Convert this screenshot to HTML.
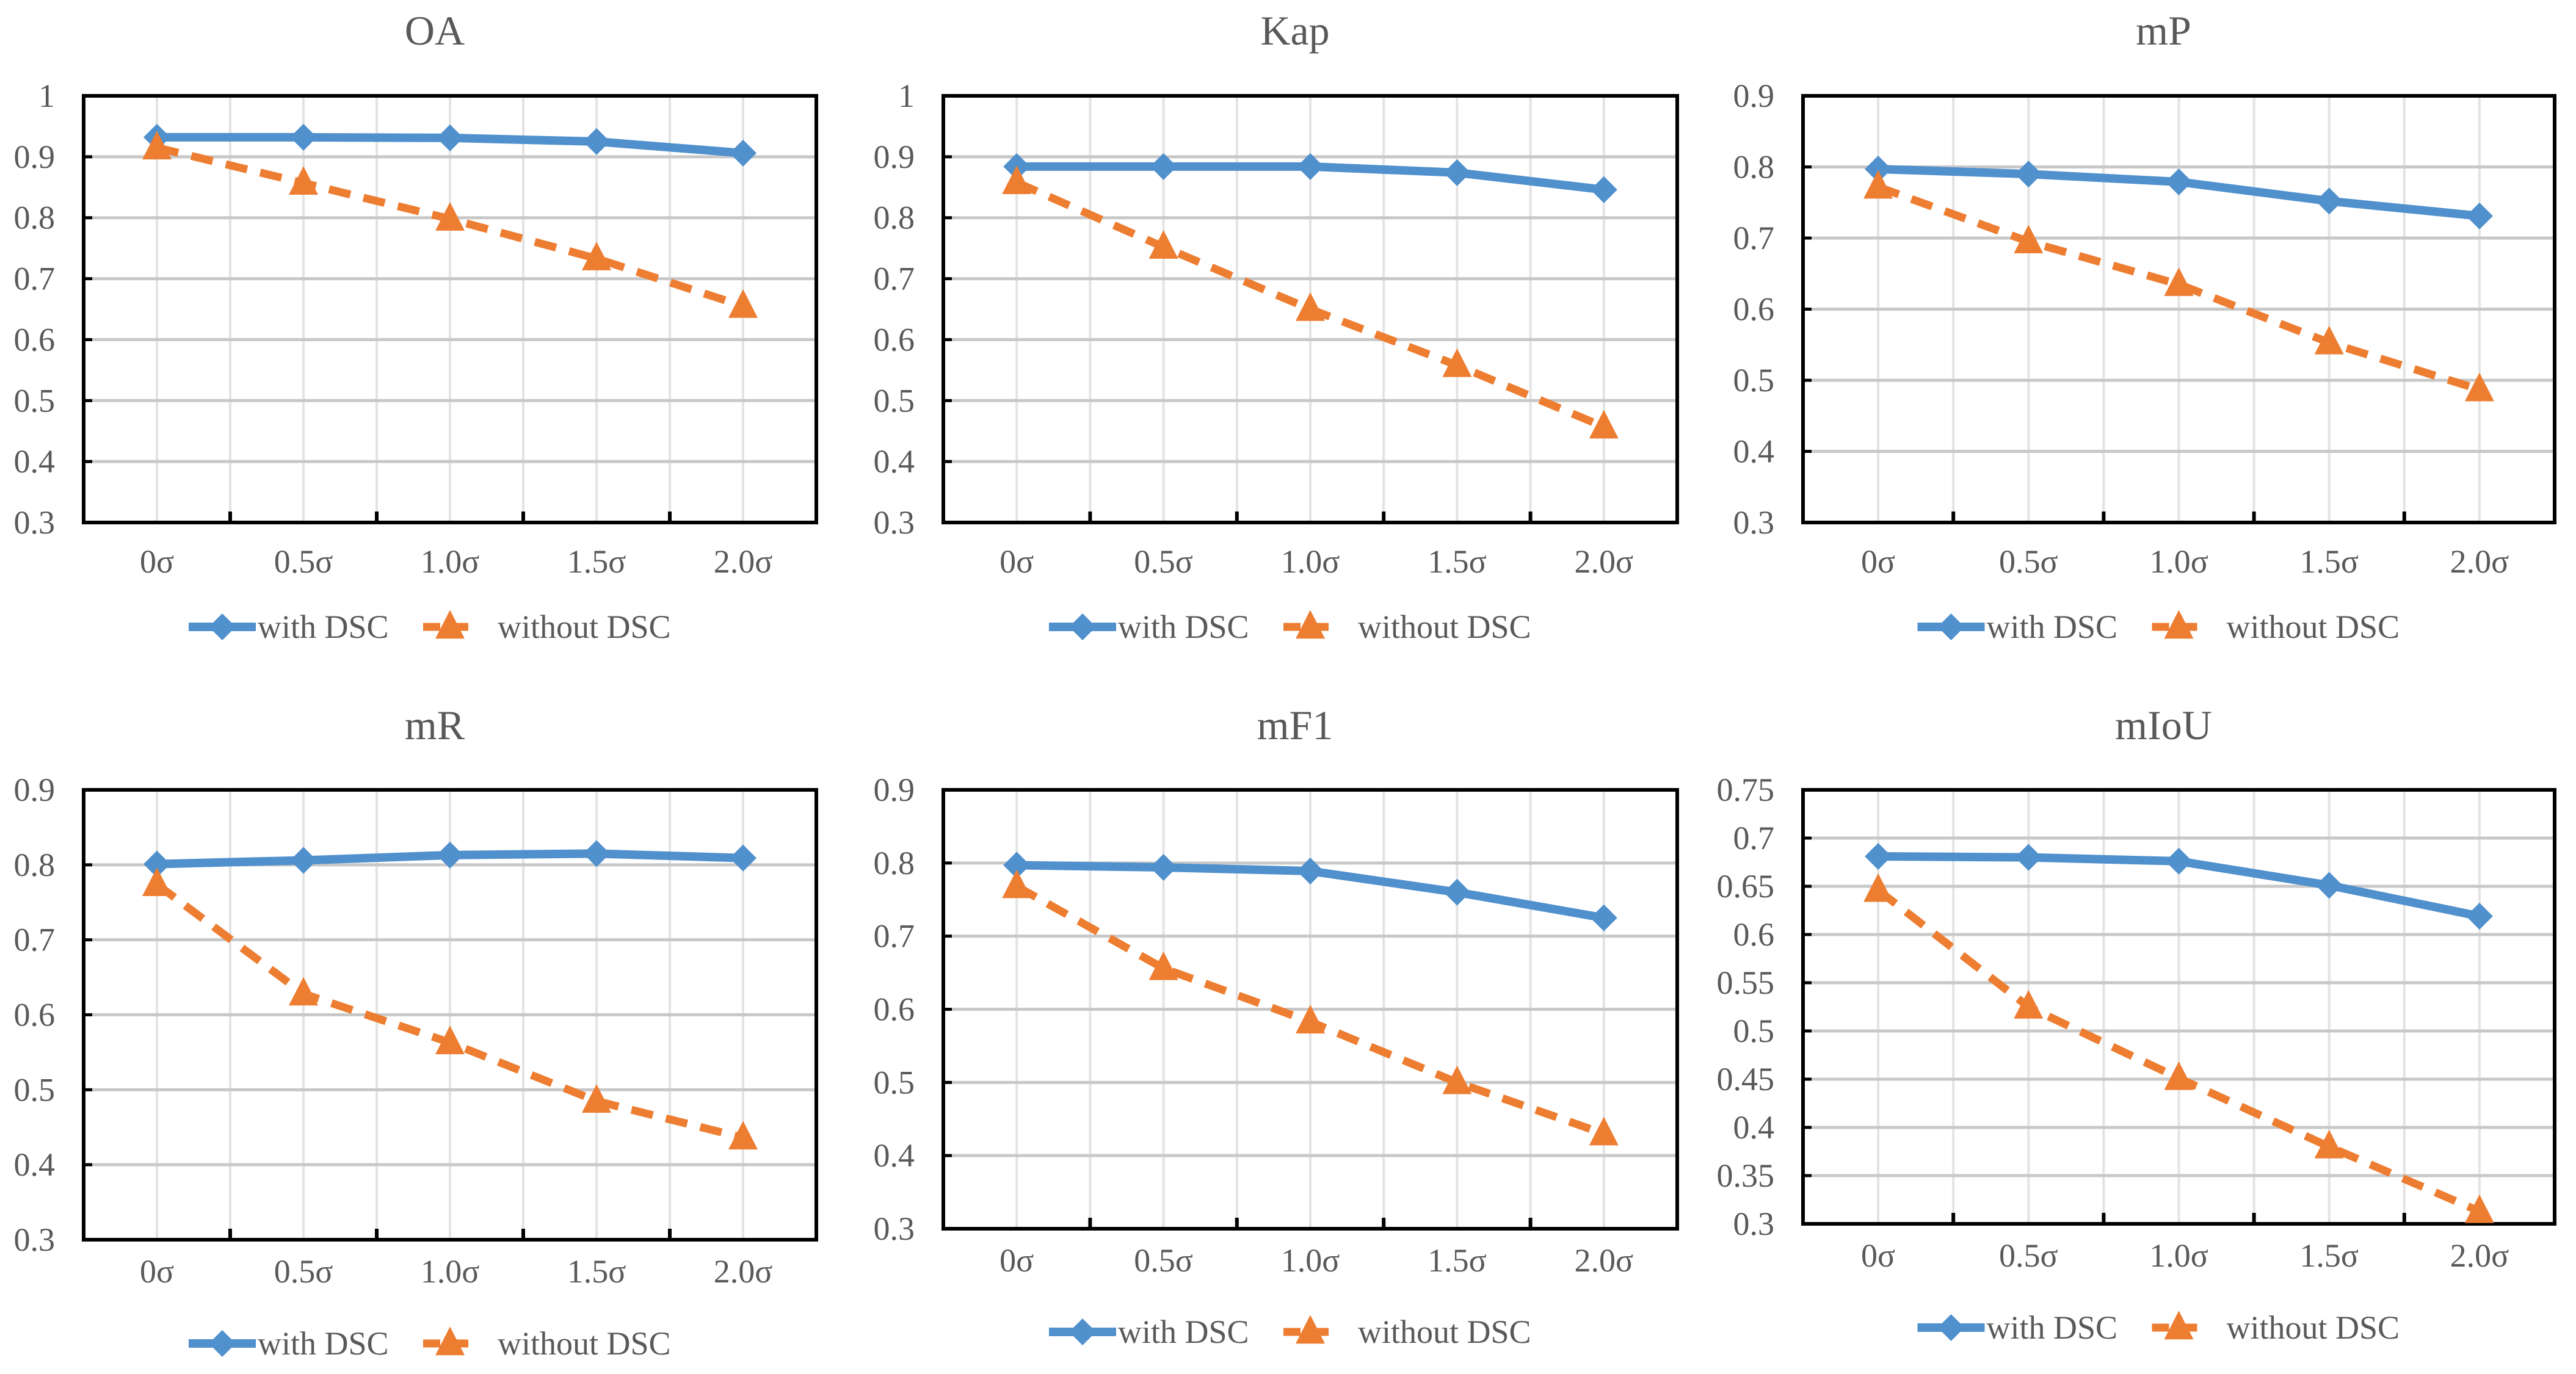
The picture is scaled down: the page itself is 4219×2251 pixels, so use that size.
<!DOCTYPE html>
<html><head><meta charset="utf-8">
<style>
html,body{margin:0;padding:0;background:#fff;}
svg{display:block;}
text{font-family:"Liberation Serif","Times New Roman",serif;fill:#595959;}
</style></head>
<body>
<svg id="chart" width="4219" height="2251" viewBox="0 0 4219 2251" xmlns="http://www.w3.org/2000/svg"></svg>
<script>
const categories = ["0σ","0.5σ","1.0σ","1.5σ","2.0σ"];
const seriesNames = ["with DSC","without DSC"];
const titles = ["OA","Kap","mP","mR","mF1","mIoU"];
const oaWith = [0.932,0.932,0.931,0.925,0.906];
const oaWithout = [0.915,0.857,0.798,0.733,0.655];
const kapWith = [0.884,0.884,0.884,0.874,0.846];
const kapWithout = [0.858,0.752,0.650,0.558,0.457];
const mpWith = [0.797,0.790,0.779,0.752,0.731];
const mpWithout = [0.772,0.695,0.635,0.553,0.487];
const mrWith = [0.801,0.806,0.813,0.815,0.809];
const mrWithout = [0.774,0.628,0.563,0.485,0.436];
const mf1With = [0.797,0.794,0.789,0.760,0.725];
const mf1Without = [0.768,0.656,0.583,0.500,0.430];
const miouWith = [0.681,0.680,0.676,0.651,0.619];
const miouWithout = [0.646,0.525,0.451,0.380,0.313];
const yTicks1 = ["0.3","0.4","0.5","0.6","0.7","0.8","0.9","1"];
const yTicks2 = ["0.3","0.4","0.5","0.6","0.7","0.8","0.9"];
const yTicks3 = ["0.3","0.35","0.4","0.45","0.5","0.55","0.6","0.65","0.7","0.75"];

const NS = "http://www.w3.org/2000/svg";
const FONT = "Liberation Serif, Times New Roman, serif";
const svg = document.getElementById('chart');
function mk(tag, attrs, parent){
  const e = document.createElementNS(NS, tag);
  for (const k in attrs) e.setAttribute(k, attrs[k]);
  if (tag === 'text') e.setAttribute('font-family', FONT);
  (parent||svg).appendChild(e);
  return e;
}
const panels = [
  {name:"oa", title:titles[0], w:oaWith, wo:oaWithout, ticks:yTicks1, L:137, R:1337, T:157, B:856, tY:49, xY:938, lY:1027},
  {name:"kap", title:titles[1], w:kapWith, wo:kapWithout, ticks:yTicks1, L:1545, R:2747, T:157, B:856, tY:49, xY:938, lY:1027},
  {name:"mp", title:titles[2], w:mpWith, wo:mpWithout, ticks:yTicks2, L:2953, R:4184, T:157, B:856, tY:49, xY:938, lY:1027},
  {name:"mr", title:titles[3], w:mrWith, wo:mrWithout, ticks:yTicks2, L:137, R:1337, T:1294, B:2031, tY:1187, xY:2101, lY:2201},
  {name:"mf1", title:titles[4], w:mf1With, wo:mf1Without, ticks:yTicks2, L:1545, R:2747, T:1294, B:2013, tY:1187, xY:2083, lY:2182},
  {name:"miou", title:titles[5], w:miouWith, wo:miouWithout, ticks:yTicks3, L:2953, R:4184, T:1294, B:2005, tY:1187, xY:2075, lY:2175}
];
function diamond(g,x,y,name){
  const s=22;
  const d = mk('polygon',{points:`${x},${y-s} ${x+s},${y} ${x},${y+s} ${x-s},${y}`,fill:'#5090cd'},g);
  
  
  return d;
}
function tri(g,x,y,name){
  const s=24;
  const d = mk('polygon',{points:`${x},${y-s*1.15} ${x+s},${y+s*0.8} ${x-s},${y+s*0.8}`,fill:'#ed7d31'},g);
  
  
  return d;
}
panels.forEach(p=>{
  const g = mk('g',{});
  
  
  const ymin = parseFloat(p.ticks[0]), ymax = parseFloat(p.ticks[p.ticks.length-1]);
  const ys = v => p.B - (v-ymin)/(ymax-ymin)*(p.B-p.T);
  const band = (p.R-p.L)/categories.length;
  const xs = i => p.L + band*(i+0.5);
  const t = mk('text',{x:(p.L+p.R)/2-25,y:p.tY+24,'font-size':68,'text-anchor':'middle'},g);
  t.textContent = p.title;
  
  
  for(let i=0;i<categories.length;i++){
    const vl = mk('line',{x1:xs(i),x2:xs(i),y1:p.T,y2:p.B,stroke:'#e3e3e3','stroke-width':4},g);
    
    
    if(i>0){
      const vb = mk('line',{x1:p.L+band*i,x2:p.L+band*i,y1:p.T,y2:p.B,stroke:'#e3e3e3','stroke-width':4},g);
      
      
    }
  }
  p.ticks.forEach(tk=>{
    const y = ys(parseFloat(tk));
    const hl = mk('line',{x1:p.L,x2:p.R,y1:y,y2:y,stroke:'#c8c8c8','stroke-width':5},g);
    
    
    const tm = mk('line',{x1:p.L,x2:p.L+14,y1:y,y2:y,stroke:'#000','stroke-width':5},g);
    
    
    const lab = mk('text',{x:p.L-47,y:y+18,'font-size':54,'text-anchor':'end'},g);
    lab.textContent = tk;
    
    
  });
  const fr = mk('rect',{x:p.L,y:p.T,width:p.R-p.L,height:p.B-p.T,fill:'none',stroke:'#000','stroke-width':6},g);
  
  
  for(let i=1;i<categories.length;i++){
    const tm = mk('line',{x1:p.L+band*i,x2:p.L+band*i,y1:p.B,y2:p.B-18,stroke:'#000','stroke-width':6},g);
    
    
  }
  categories.forEach((c,i)=>{
    const lab = mk('text',{x:xs(i),y:p.xY,'font-size':54,'text-anchor':'middle'},g);
    lab.textContent = c;
    
    
  });
  const ptsW = p.w.map((v,i)=>xs(i)+','+ys(v)).join(' ');
  const ptsWo = p.wo.map((v,i)=>xs(i)+','+ys(v)).join(' ');
  const lw = mk('polyline',{points:ptsW,fill:'none',stroke:'#5090cd','stroke-width':14,'stroke-linejoin':'round'},g);
  
  
  const lwo = mk('polyline',{points:ptsWo,fill:'none',stroke:'#ed7d31','stroke-width':13,'stroke-dasharray':'36,22'},g);
  
  
  p.w.forEach((v,i)=>diamond(g,xs(i),ys(v),'with-dsc-point'));
  p.wo.forEach((v,i)=>tri(g,xs(i),ys(v),'without-dsc-point'));
  const cx = (p.L+p.R)/2, ly = p.lY;
  const lg = mk('g',{},g);
  
  
  const l1 = mk('line',{x1:cx-428,x2:cx-318,y1:ly,y2:ly,stroke:'#5090cd','stroke-width':14},lg);
  
  
  diamond(lg,cx-373,ly,'legend-with-dsc-marker');
  const t1 = mk('text',{x:cx-315,y:ly+18,'font-size':54},lg);
  t1.textContent = seriesNames[0];
  
  
  const l2 = mk('line',{x1:cx-44,x2:cx+44,y1:ly,y2:ly,stroke:'#ed7d31','stroke-width':13,'stroke-dasharray':'28,18'},lg);
  
  
  tri(lg,cx,ly,'legend-without-dsc-marker');
  const t2 = mk('text',{x:cx+78,y:ly+18,'font-size':54},lg);
  t2.textContent = seriesNames[1];
  
  
});
</script>
</body></html>
